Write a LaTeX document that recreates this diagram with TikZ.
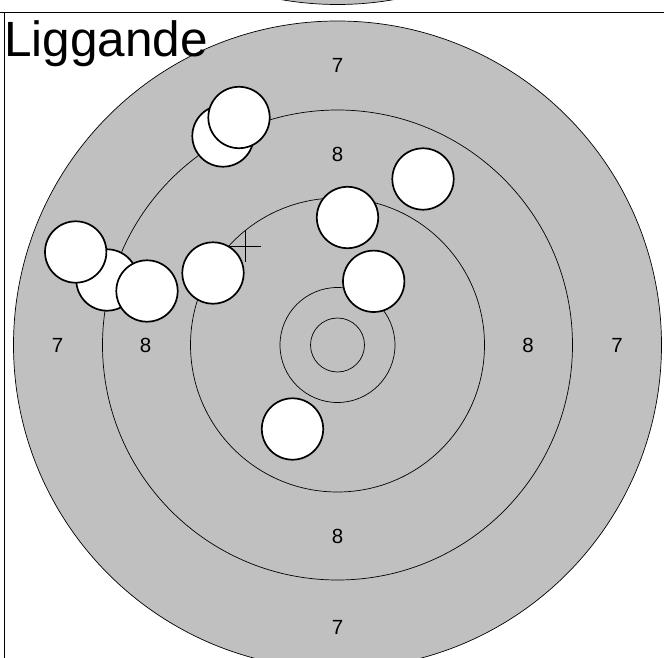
\documentclass[tikz,border=0pt]{standalone}
\usepackage{fontspec}
\setmainfont{Liberation Sans}
\definecolor{targetgray}{RGB}{192,192,192}
\tikzset{
  ring/.style={draw=black, line width=0.7pt},
  shot/.style={fill=white, draw=black, line width=1.7pt},
  score/.style={font=\fontsize{20.5}{24}\selectfont, inner sep=0pt},
}
\begin{document}
\begin{tikzpicture}[x=1pt, y=-1pt]
    \useasboundingbox (0,0) rectangle (664,658);
    \clip (0,0) rectangle (664,658);

    % previous target, only its bottom shows
    \filldraw[fill=targetgray, ring] (337.5,-319.5) circle (324);

    % frame
    \draw[line width=0.8pt] (0,12.3) -- (664,12.3);
    \draw[line width=0.8pt] (4,12.3) -- (4,658);

    % target rings
    \filldraw[fill=targetgray, ring] (337.5,345) circle (324);
    \draw[ring] (337.5,345) circle (235);
    \draw[ring] (337.5,345) circle (147);
    \draw[ring] (337.5,345) circle (57.5);
    \draw[ring] (337.5,345) circle (27);

    % title
    \node[anchor=base west, inner sep=0pt, font=\fontsize{49.5}{54}\selectfont] (title) at (4,57) {Liggande};

    % ring values
    \node[score] (top7) at (337.5,65) {7};
    \node[score] (top8) at (337.5,154) {8};
    \node[score] (left7) at (57.5,345) {7};
    \node[score] (left8) at (145.5,345) {8};
    \node[score] (right8) at (528,345) {8};
    \node[score] (right7) at (617,345) {7};
    \node[score] (bottom8) at (337.5,536) {8};
    \node[score] (bottom7) at (337.5,627) {7};

    % aiming mark
    \draw[line width=0.8pt] (230,246) -- (261,246);
    \draw[line width=0.8pt] (245.5,230) -- (245.5,262);

    % shots
    \filldraw[shot] (223,136) circle (30.7);
    \filldraw[shot] (239,117.5) circle (30.7);
    \filldraw[shot] (423,179) circle (30.7);
    \filldraw[shot] (347.5,217.5) circle (30.7);
    \filldraw[shot] (107,280) circle (30.7);
    \filldraw[shot] (75.7,252) circle (30.7);
    \filldraw[shot] (147,291) circle (30.7);
    \filldraw[shot] (213,273) circle (30.7);
    \filldraw[shot] (373.7,281.3) circle (30.7);
    \filldraw[shot] (292.5,429) circle (30.7);
\end{tikzpicture}
\end{document}
